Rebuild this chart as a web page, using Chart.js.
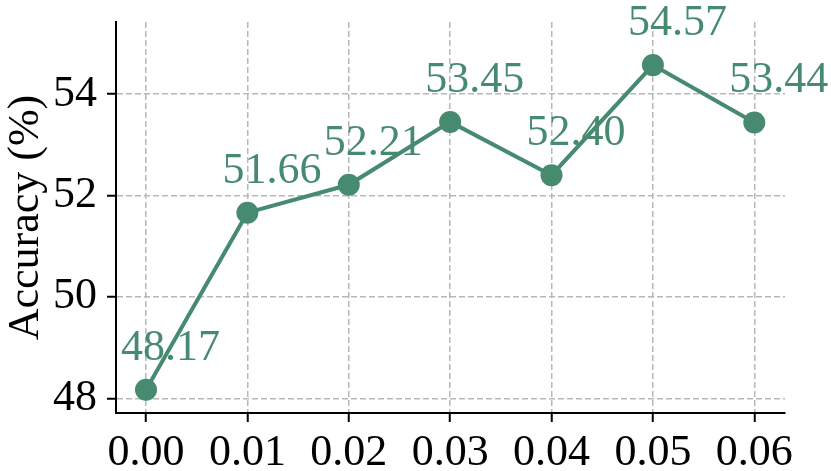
<!DOCTYPE html>
<html>
<head>
<meta charset="utf-8">
<script src="https://cdn.jsdelivr.net/npm/chart.js@4/dist/chart.umd.min.js"></script>
<style>
html,body{margin:0;padding:0;background:#fff;}
#wrap{width:831px;height:471px;position:relative;}
</style>
</head>
<body>
<div id="wrap"><canvas id="c" width="831" height="471"></canvas></div>
<script>
const xValues = [0.00, 0.01, 0.02, 0.03, 0.04, 0.05, 0.06];
const accuracy = [48.17, 51.66, 52.21, 53.45, 52.40, 54.57, 53.44];
const xTicks = [0.00, 0.01, 0.02, 0.03, 0.04, 0.05, 0.06];
const yTicks = [48, 50, 52, 54];
const yLabel = 'Accuracy (%)';

const green = '#468a70';
const FONT = "'Liberation Serif', 'Times New Roman', serif";

const labelPlugin = {
  id: 'valueLabels',
  afterDatasetsDraw(chart) {
    const ctx = chart.ctx;
    const meta = chart.getDatasetMeta(0);
    ctx.save();
    ctx.font = '44px ' + FONT;
    ctx.fillStyle = green;
    ctx.textAlign = 'left';
    ctx.textBaseline = 'alphabetic';
    meta.data.forEach((pt, i) => {
      ctx.fillText(accuracy[i].toFixed(2), pt.x - 25, pt.y - 30);
    });
    ctx.restore();
  }
};

new Chart(document.getElementById('c'), {
  type: 'line',
  data: {
    datasets: [{
      data: xValues.map((x, i) => ({x: x, y: accuracy[i]})),
      borderColor: green,
      backgroundColor: green,
      borderWidth: 4,
      pointRadius: 11,
      pointHoverRadius: 11,
      pointBackgroundColor: green,
      pointBorderWidth: 0,
      tension: 0,
      clip: false
    }]
  },
  options: {
    responsive: false,
    animation: false,
    events: [],
    layout: {padding: {top: 22, right: 46, left: 0, bottom: 0}},
    plugins: {legend: {display: false}, tooltip: {enabled: false}},
    scales: {
      x: {
        type: 'linear',
        min: -0.00296,
        max: 0.06303,
        afterBuildTicks(s) { s.ticks = xTicks.map(v => ({value: v})); },
        afterFit(s) { s.height = 58; s.paddingLeft = 0; s.paddingRight = 0; },
        ticks: {
          font: {family: FONT, size: 44},
          color: '#000',
          padding: 5,
          maxRotation: 0,
          autoSkip: false,
          callback: v => Number(v).toFixed(2)
        },
        grid: {
          color: '#b8b8b8',
          lineWidth: 1.5,
          tickColor: '#000',
          tickWidth: 2,
          tickLength: 9,
          tickBorderDash: []
        },
        border: {display: true, color: '#000', width: 2, dash: [6, 3]}
      },
      y: {
        type: 'linear',
        min: 47.71,
        max: 55.42,
        afterBuildTicks(s) { s.ticks = yTicks.map(v => ({value: v})); },
        afterFit(s) { s.width = 116; s.paddingTop = 0; s.paddingBottom = 0; },
        ticks: {
          font: {family: FONT, size: 44},
          color: '#000',
          padding: 10,
          callback: v => String(v)
        },
        grid: {
          color: '#b8b8b8',
          lineWidth: 1.5,
          tickColor: '#000',
          tickWidth: 2,
          tickLength: 9,
          tickBorderDash: []
        },
        border: {display: true, color: '#000', width: 2, dash: [6, 3]},
        title: {
          display: true,
          text: yLabel,
          color: '#000',
          font: {family: FONT, size: 44},
          padding: {top: 0, bottom: 0}
        }
      }
    }
  },
  plugins: [labelPlugin]
});
</script>
</body>
</html>
